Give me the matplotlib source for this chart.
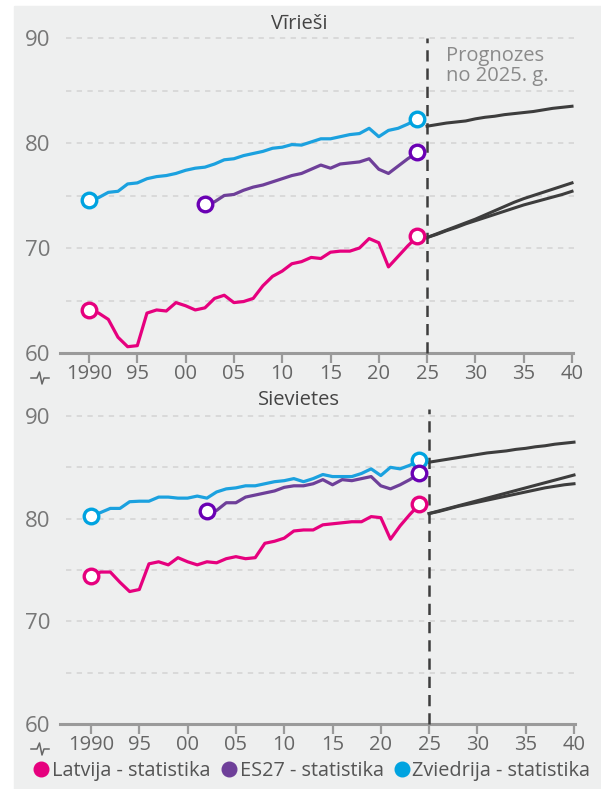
import numpy as np
import matplotlib
matplotlib.use('Agg')
import matplotlib.pyplot as plt
from matplotlib.lines import Line2D
from matplotlib.patches import Rectangle

plt.rcParams['font.family'] = ['Open Sans', 'DejaVu Sans']

# --- data -------------------------------------------------------------
years_stat = np.arange(1990, 2025)
years_eu = np.arange(2002, 2025)
years_fc = np.arange(2025, 2041)

lv_men = [64.1, 63.8, 63.2, 61.5, 60.6, 60.7, 63.8, 64.1, 64.0, 64.8,
          64.5, 64.1, 64.3, 65.2, 65.5, 64.8, 64.9, 65.2, 66.4, 67.3,
          67.8, 68.5, 68.7, 69.1, 69.0, 69.6, 69.7, 69.7, 70.0, 70.9,
          70.5, 68.2, 69.2, 70.2, 71.1]
eu_men = [74.2, 74.4, 75.0, 75.1, 75.5, 75.8, 76.0, 76.3, 76.6, 76.9,
          77.1, 77.5, 77.9, 77.6, 78.0, 78.1, 78.2, 78.5, 77.5, 77.1,
          77.8, 78.5, 79.1]
se_men = [74.6, 74.8, 75.3, 75.4, 76.1, 76.2, 76.6, 76.8, 76.9, 77.1,
          77.4, 77.6, 77.7, 78.0, 78.4, 78.5, 78.8, 79.0, 79.2, 79.5,
          79.6, 79.85, 79.8, 80.1, 80.4, 80.4, 80.6, 80.8, 80.9, 81.4,
          80.6, 81.2, 81.4, 81.8, 82.3]

lv_women = [74.4, 74.8, 74.8, 73.8, 72.9, 73.1, 75.6, 75.8, 75.5, 76.2,
            75.8, 75.5, 75.8, 75.7, 76.1, 76.3, 76.1, 76.2, 77.6, 77.8,
            78.1, 78.8, 78.9, 78.9, 79.4, 79.5, 79.6, 79.7, 79.7, 80.2,
            80.1, 78.0, 79.3, 80.4, 81.4]
eu_women = [80.7, 80.8, 81.55, 81.55, 82.1, 82.3, 82.5, 82.7, 83.05, 83.2,
            83.2, 83.4, 83.8, 83.3, 83.8, 83.7, 83.9, 84.1, 83.2, 82.9,
            83.3, 83.8, 84.4]
se_women = [80.3, 80.6, 81.0, 81.0, 81.65, 81.7, 81.7, 82.1, 82.1, 82.0,
            82.0, 82.2, 82.0, 82.6, 82.9, 83.0, 83.2, 83.2, 83.4, 83.6,
            83.7, 83.9, 83.6, 83.9, 84.3, 84.1, 84.1, 84.1, 84.4, 84.85,
            84.2, 85.0, 84.85, 85.2, 85.7]

# forecasts 2025-2040
fc_men = [
    [81.6, 81.75, 81.9, 82.0, 82.1, 82.3, 82.45, 82.55, 82.7, 82.8,
     82.9, 83.0, 83.15, 83.3, 83.4, 83.5],
    [71.0, 71.35, 71.7, 72.05, 72.4, 72.75, 73.15, 73.55, 73.95, 74.35,
     74.7, 75.0, 75.3, 75.6, 75.9, 76.2],
    [71.0, 71.3, 71.65, 71.95, 72.3, 72.6, 72.9, 73.2, 73.5, 73.8,
     74.1, 74.35, 74.6, 74.85, 75.1, 75.4],
]
fc_women = [
    [85.5, 85.65, 85.8, 85.95, 86.1, 86.25, 86.4, 86.5, 86.6, 86.75,
     86.85, 87.0, 87.1, 87.25, 87.35, 87.45],
    [80.5, 80.75, 81.0, 81.25, 81.5, 81.75, 82.0, 82.25, 82.5, 82.75,
     83.0, 83.25, 83.5, 83.75, 84.0, 84.25],
    [80.5, 80.7, 80.95, 81.2, 81.4, 81.6, 81.8, 82.0, 82.2, 82.4,
     82.6, 82.8, 83.0, 83.15, 83.3, 83.4],
]

xtick_years = list(range(1990, 2041, 5))
xtick_labels = ['1990', '95', '00', '05', '10', '15', '20', '25', '30', '35', '40']

PINK = '#e6007e'
PURPLE = '#6e3f99'
PURPLE_MK = '#6a00b4'
BLUE = '#1ba1df'
BLUE_MK = '#00a3e0'
DARK = '#3d3d3d'

W, H = 601, 789


def fx(px):
    return px / W


def fy(py):
    return 1 - py / H


fig = plt.figure(figsize=(W / 100, H / 100), dpi=100)
fig.patch.set_facecolor('white')
fig.add_artist(Rectangle((fx(14), 0), 1 - fx(14), fy(6), transform=fig.transFigure,
                         color='#eeefef', zorder=-10))


def draw_panel(top_px, bot_px, px_per_unit, x1990, title, title_y,
               lv, eu, se, fc, vtop):
    # axes from px 60 to 578
    px_per_yr = 9.66
    left_px, right_px = 60, 578
    x0 = 1990 - (x1990 - left_px) / px_per_yr
    x1 = 1990 + (right_px - x1990) / px_per_yr
    ytop = 60 + (bot_px - top_px) / px_per_unit
    ax = fig.add_axes([fx(left_px), fy(bot_px), fx(right_px) - fx(left_px),
                       fy(top_px) - fy(bot_px)])
    ax.set_facecolor('none')
    ax.set_xlim(x0, x1)
    ax.set_ylim(60, ytop)
    for s in ['top', 'right', 'left']:
        ax.spines[s].set_visible(False)
    ax.spines['bottom'].set_color('#9a9a9a')
    ax.spines['bottom'].set_linewidth(2.2)
    ax.spines['bottom'].set_bounds(x0, 2040.1)

    ax.hlines([65, 70, 75, 80, 85, 90], x0 + 6 / px_per_yr, x1,
              colors='#d3d3d3', linestyles=(0, (3.5, 3.5)), lw=1.1, zorder=1)

    ax.set_xticks(xtick_years)
    ax.set_xticklabels(xtick_labels)
    ax.tick_params(axis='x', length=7, width=1.6, color='#9a9a9a',
                   labelcolor='#666666', labelsize=14.5, pad=1)
    ax.set_yticks([60, 70, 80, 90])
    ax.tick_params(axis='y', length=0, labelcolor='#777777', labelsize=16, pad=7)

    ax.plot([2025, 2025], [60, vtop], color=DARK, lw=1.8,
            ls=(0, (4.5, 2.8)), zorder=4, clip_on=False)

    for vals in fc:
        ax.plot(years_fc, vals, color=DARK, lw=2.2, zorder=3)

    for yrs, vals, c, mc in [(years_stat, se, BLUE, BLUE_MK),
                             (years_eu, eu, PURPLE, PURPLE_MK),
                             (years_stat, lv, PINK, PINK)]:
        ax.plot(yrs, vals, color=c, lw=2.3, zorder=5)
        ax.plot([yrs[0], yrs[-1]], [vals[0], vals[-1]], 'o', ms=10.5,
                mfc='white', mec=mc, mew=2.4, zorder=6)

    fig.text(fx(299), fy(title_y), title, ha='center', va='center',
             fontsize=14.5, color='#444444')

    # axis break sign
    yb = bot_px + 25
    xs = [31, 37, 39.5, 42, 44, 49]
    ys = [yb, yb, yb - 6, yb + 6, yb, yb]
    fig.add_artist(Line2D([fx(v) for v in xs], [fy(v) for v in ys],
                          transform=fig.transFigure, color='#666666', lw=1.1))
    return ax


ax1 = draw_panel(22, 353, 10.5, 89, 'Vīrieši', 24, lv_men, eu_men, se_men, fc_men, 90)
ax1.text(2027.0, 87.3, 'Prognozes\nno 2025. g.', ha='left', va='center',
         fontsize=14.5, color='#8a8a8a', linespacing=1.0)

ax2 = draw_panel(401, 724, 10.267, 91, 'Sievietes', 400, lv_women, eu_women, se_women,
                 fc_women, 90.7)

handles = [Line2D([], [], marker='o', ls='none', ms=10.5, color=c, mec=c)
           for c in [PINK, PURPLE, BLUE_MK]]
fig.legend(handles, ['Latvija - statistika', 'ES27 - statistika', 'Zviedrija - statistika'],
           loc='center', bbox_to_anchor=(fx(311), fy(771)), ncol=3, frameon=False,
           fontsize=14.3, handletextpad=0.05, columnspacing=0.4, handlelength=1.0,
           labelcolor='#555555', borderaxespad=0)

fig.savefig('out.png', dpi=100, facecolor=fig.get_facecolor())
